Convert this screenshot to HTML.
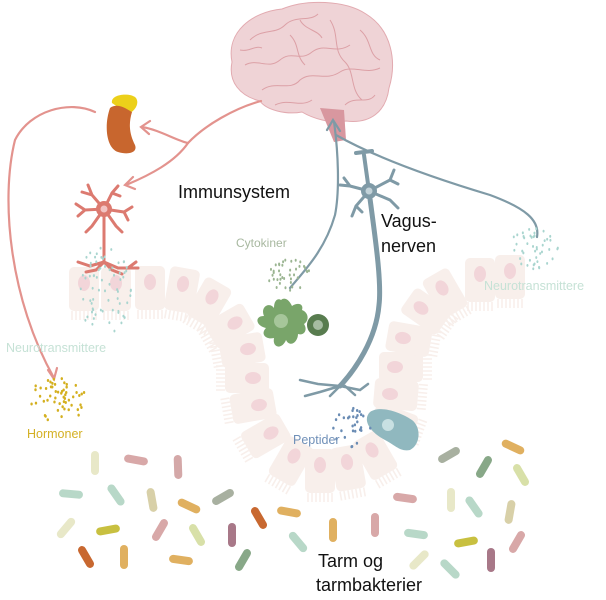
<!DOCTYPE html>
<html><head><meta charset="utf-8"><style>
html,body{margin:0;padding:0;background:#fff;}
svg{display:block;font-family:"Liberation Sans",sans-serif;}
.cell rect{fill:#f8efeb;}
.cell ellipse{fill:#f2d5d9;}
.cell path{stroke:#f8efeb;stroke-width:1.6;fill:none;}
</style></head><body>
<svg id="s" width="606" height="600" viewBox="0 0 606 600" xmlns="http://www.w3.org/2000/svg">
<g id="cells"></g>
<!-- brain -->
<path d="M232 62 C226 32 252 12 282 9 C306 -1 345 0 366 14 C392 30 397 62 389 88 C386 112 370 124 346 121 C330 124 312 118 302 112 C286 115 266 110 260 101 C240 96 228 82 232 62 Z" fill="#efd3d6" stroke="#e2aab0" stroke-width="1"/>
<g fill="none" stroke="#dca0a6" stroke-width="1">
<path d="M250 40 C262 28 275 35 285 25 C295 15 310 22 318 14"/>
<path d="M245 65 C258 58 268 70 280 60 C292 50 300 62 312 52 C325 42 335 55 350 45"/>
<path d="M262 90 C275 80 290 92 300 80 C312 70 325 82 340 72 C352 64 365 75 380 68"/>
<path d="M330 20 C340 35 332 50 345 62 C355 72 350 90 362 100"/>
<path d="M290 35 C300 45 295 55 305 65"/>
<path d="M360 30 C372 40 368 55 380 60"/>
<path d="M275 105 C290 98 300 108 312 100"/>
<path d="M345 105 C355 95 368 105 375 95"/>
<path d="M240 50 C250 52 255 45 262 48"/>
<path d="M300 20 C305 30 318 30 322 38"/>
</g>
<path d="M320 108 L344 110 L346 140 L334 142 Z" fill="#d8979f"/>
<!-- kidney/adrenal -->
<path d="M112 103 C110 94 130 92 136 98 C140 104 134 112 128 114 Z" fill="#ecd01a"/>
<path d="M110 108 C118 102 128 110 132 112 C128 125 130 135 135 145 C138 153 128 155 118 152 C106 148 104 125 110 108 Z" fill="#c8662e"/>
<!-- pink arrows -->
<g fill="none" stroke="#e3938e" stroke-width="2.2" stroke-linecap="round">
<path d="M261 101 C235 108 205 125 188 143 C175 140 160 130 142 127"/>
<path d="M150 121 L141 127 L149 134"/>
<path d="M188 143 C175 162 150 175 126 185"/>
<path d="M133 177 L125 185 L135 189"/>
<path d="M95 112 C70 100 30 110 15 140 C0 200 10 300 54 378"/>
<path d="M48 370 L54 379 L57 368"/>
</g>
<!-- red neuron -->
<g stroke="#dc7a70" stroke-width="3" fill="none" stroke-linecap="round">
<path d="M104 209 L104 262"/>
<path d="M104 209 L92 195 L88 185 M92 195 L82 192"/>
<path d="M104 209 L112 193 L118 186 M112 193 L120 196"/>
<path d="M104 209 L85 210 L76 204 M85 210 L78 216"/>
<path d="M104 209 L124 212 L132 207 M124 212 L128 220"/>
<path d="M104 209 L92 226 L86 232"/>
<path d="M104 209 L116 226 L122 232"/>
<path d="M104 262 L90 266 L78 262 M104 262 L118 268 L138 268 M104 262 L96 270 L86 272 M104 262 L112 270 L122 274 M128 268 L136 262"/>
</g>
<circle cx="104" cy="209" r="8" fill="#dc7a70"/>
<circle cx="104" cy="209" r="3.5" fill="#f2c4c4"/>
<!-- blue lines -->
<g fill="none" stroke="#7f9aa6" stroke-width="2.2" stroke-linecap="round">
<path d="M334 122 C338 150 340 190 335 215 C325 250 305 270 290 288"/>
<path d="M336 135 C380 160 440 180 490 195 C525 208 540 220 537 237"/>
<path d="M327 130 L333 120 L340 131"/>
</g>
<!-- vagus neuron -->
<g stroke="#7f9aa6" fill="none" stroke-linecap="round">
<path d="M369 191 L364 155" stroke-width="4"/>
<path d="M356 153 L372 151" stroke-width="4"/>
<path d="M369 191 C374 230 382 280 379 305 C376 340 355 370 340 386" stroke-width="5"/>
<path d="M369 191 L390 180 L394 170 M390 180 L398 184" stroke-width="3"/>
<path d="M369 191 L350 186 L340 185 M350 186 L344 178" stroke-width="3"/>
<path d="M369 191 L390 200 L398 208" stroke-width="3"/>
<path d="M369 191 L356 206 L352 216 M356 206 L362 212" stroke-width="3"/>
<path d="M340 386 L318 384 L300 380 M340 386 L320 392 L305 396 M340 386 L330 396 M340 386 L360 390 L368 384 M345 386 L355 395" stroke-width="2.5"/>
</g>
<circle cx="369" cy="191" r="8" fill="#7f9aa6"/>
<circle cx="369" cy="191" r="3.5" fill="#c2d2d8"/>
<!-- immune cells -->
<path d="M281 300 C286 296 290 302 292 306 C298 302 304 304 302 310 C308 312 310 320 304 324 C308 330 304 336 298 334 C298 342 290 348 286 340 C282 350 272 348 274 338 C266 340 260 334 266 328 C256 326 254 316 264 316 C260 306 270 302 274 308 C274 300 278 298 281 300 Z" fill="#79a56a"/>
<circle cx="281" cy="321" r="7" fill="#a6c69a"/>
<circle cx="318" cy="325" r="11" fill="#587c4f"/>
<circle cx="318" cy="325" r="5" fill="#a6bca2"/>
<!-- blue cell -->
<path d="M370 412 C380 405 400 412 412 420 C422 428 420 445 410 450 C400 452 395 445 385 440 C370 432 362 420 370 412 Z" fill="#90b8bf"/>
<circle cx="388" cy="425" r="6" fill="#c8e0e2"/>
<g id="dots"></g>
<g id="bact"></g>
<!-- text -->
<text x="178" y="198" font-size="18" fill="#111">Immunsystem</text>
<text x="381" y="227" font-size="18" fill="#111">Vagus-</text>
<text x="381" y="252" font-size="18" fill="#111">nerven</text>
<text x="236" y="247" font-size="12" fill="#a8b8a0">Cytokiner</text>
<text x="484" y="290" font-size="12.5" fill="#c6e2d6">Neurotransmittere</text>
<text x="6" y="352" font-size="12.5" fill="#c6e2d6">Neurotransmittere</text>
<text x="27" y="438" font-size="12.5" fill="#d4b024">Hormoner</text>
<text x="293" y="444" font-size="12.5" fill="#7090b8">Peptider</text>
<text x="318" y="567" font-size="18" fill="#111">Tarm og</text>
<text x="316" y="591" font-size="18" fill="#111">tarmbakterier</text>
</svg>
<script>
var NS="http://www.w3.org/2000/svg";
function el(p,t,a){var e=document.createElementNS(NS,t);for(var k in a)e.setAttribute(k,a[k]);p.appendChild(e);return e;}
var cells=[[84,283,0],[116,283,0],[150,282,0],[183,284,10],[212,297,30],[235,323,60],[248,349,80],[253,378,90],[259,405,80],[271,433,60],[294,456,30],[320,465,0],[347,462,-10],[372,450,-30],[388,421,-70],[390,394,-85],[395,367,-90],[403,338,-80],[421,308,-55],[442,288,-30],[480,274,0],[510,271,0]];
var cg=document.getElementById("cells");
cells.forEach(function(c){var g=el(cg,"g",{"class":"cell",transform:"translate("+c[0]+","+c[1]+") rotate("+c[2]+")"});
el(g,"rect",{x:-15,y:-16,width:30,height:44,rx:5});
el(g,"ellipse",{cx:0,cy:0,rx:6,ry:8});
var d="";for(var i=-12;i<=12;i+=4)d+="M"+i+" 28 L"+i+" 37 ";el(g,"path",{d:d});});
var seed=7;function r(){seed=(seed*16807)%2147483647;return seed/2147483647;}
var dg=document.getElementById("dots");
function cloud(cx,cy,rx,ry,n,col,w,h){for(var i=0;i<n;i++){var a=r()*6.283,q=Math.sqrt(r());el(dg,"ellipse",{cx:cx+Math.cos(a)*rx*q,cy:cy+Math.sin(a)*ry*q,rx:w,ry:h,fill:col});}}
cloud(104,290,28,45,70,"#a9d5cf",1,1.4);
cloud(533,250,25,22,45,"#a9d5cf",1,1.4);
cloud(288,275,22,16,40,"#9bb592",1,1.5);
cloud(58,400,30,22,55,"#d4b020",1.2,1.5);
cloud(352,428,20,20,30,"#6a8cb4",1.2,1.5);
var B=[[95,463,90,"#e8e8c8"],[136,460,10,"#d8a8a8"],[178,467,88,"#d4a8a8"],[71,494,5,"#b8d8c8"],[116,495,55,"#b8d8c8"],[152,500,80,"#d8d0a8"],[189,506,25,"#e0b060"],[223,497,-30,"#a8b0a0"],[259,518,60,"#c86830"],[289,512,10,"#e0b060"],[333,530,90,"#e0b060"],[375,525,90,"#d8a8a8"],[405,498,8,"#d8a8a8"],[416,534,8,"#b8d8c8"],[451,500,90,"#e8e8c8"],[474,507,55,"#b8d8c8"],[510,512,100,"#d8d0a8"],[449,455,-30,"#a8b0a0"],[484,467,-60,"#88a888"],[513,447,25,"#e0b060"],[521,475,60,"#d8e0a8"],[66,528,-50,"#e8e8c8"],[108,530,-10,"#c8c040"],[160,530,-60,"#d8a8a8"],[197,535,60,"#d8e0a8"],[232,535,90,"#a87888"],[298,542,50,"#b8d8c8"],[86,557,60,"#c86830"],[124,557,90,"#e0b060"],[181,560,8,"#e0b060"],[243,560,-60,"#88a888"],[419,560,-45,"#e8e8c8"],[466,542,-10,"#c8c040"],[517,542,-60,"#d8a8a8"],[491,560,90,"#a87888"],[450,569,45,"#b8d8c8"]];
var bg=document.getElementById("bact");
B.forEach(function(b){el(bg,"rect",{x:-12,y:-4,width:24,height:8,rx:4,fill:b[3],transform:"translate("+b[0]+","+b[1]+") rotate("+b[2]+")"});});
</script>
</body></html>
